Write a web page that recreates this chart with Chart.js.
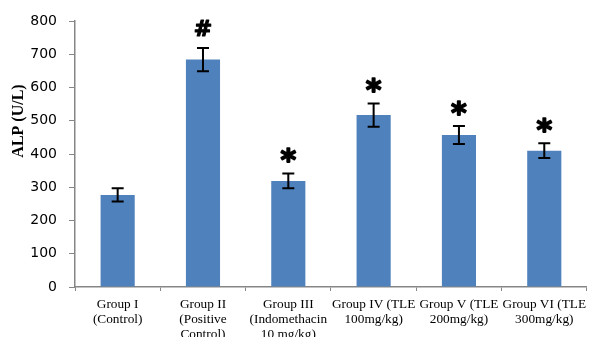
<!DOCTYPE html>
<html>
<head>
<meta charset="utf-8">
<script src="https://cdn.jsdelivr.net/npm/chart.js@4.4.1/dist/chart.umd.min.js"></script>
<style>
  html, body { margin: 0; padding: 0; background: #ffffff; overflow: hidden; }
  canvas { display: block; }
</style>
</head>
<body>
<canvas id="alp" width="592" height="337"></canvas>
<script>
// Serum ALP per treatment group (mean and SE)
const groups = [
  ['Group I', '(Control)'],
  ['Group II', '(Positive', 'Control)'],
  ['Group III', '(Indomethacin', '10 mg/kg)'],
  ['Group IV (TLE', '100mg/kg)'],
  ['Group V (TLE', '200mg/kg)'],
  ['Group VI (TLE', '300mg/kg)']
];
const alpMeans = [277, 684, 319, 517, 457, 410];
const alpErrors = [20, 35, 22, 35, 27, 22];
const significance = ['', '#', '*', '*', '*', '*'];
const yTicks = [0, 100, 200, 300, 400, 500, 600, 700, 800];

const axisGrey = '#868686';

// Error bars and significance marks above each bar
const errorBarPlugin = {
  id: 'errorBars',
  afterDatasetsDraw(chart) {
    const ctx = chart.ctx;
    const y = chart.scales.y;
    const meta = chart.getDatasetMeta(0);
    ctx.save();
    meta.data.forEach((bar, i) => {
      const top = y.getPixelForValue(alpMeans[i] + alpErrors[i]);
      const bottom = y.getPixelForValue(alpMeans[i] - alpErrors[i]);
      const cx = bar.x;
      const cap = 6;
      ctx.strokeStyle = '#000';
      ctx.lineWidth = 2;
      ctx.beginPath();
      ctx.moveTo(cx, top); ctx.lineTo(cx, bottom);
      ctx.moveTo(cx - cap, top); ctx.lineTo(cx + cap, top);
      ctx.moveTo(cx - cap, bottom); ctx.lineTo(cx + cap, bottom);
      ctx.stroke();

      const mark = significance[i];
      if (mark) {
        ctx.fillStyle = '#000';
        ctx.textAlign = 'center';
        ctx.textBaseline = 'alphabetic';
        ctx.font = mark === '#' ? 'bold 22px "DejaVu Sans"' : 'bold 30px "DejaVu Sans"';
        const m = ctx.measureText(mark);
        const gap = mark === '#' ? 20 : 18;
        const centre = top - gap;
        const base = centre + (m.actualBoundingBoxAscent - m.actualBoundingBoxDescent) / 2;
        ctx.fillText(mark, cx, base);
        // heavier outline for the symbol weight
        ctx.lineWidth = mark === '#' ? 1.2 : 1.6;
        ctx.lineJoin = 'round';
        ctx.strokeText(mark, cx, base);
      }
    });
    ctx.restore();
  }
};

// Rotated y-axis title
const yTitlePlugin = {
  id: 'yTitle',
  afterDraw(chart) {
    const ctx = chart.ctx;
    ctx.save();
    ctx.translate(19, 121);
    ctx.rotate(-Math.PI / 2);
    ctx.font = 'bold 16px "Liberation Serif"';
    ctx.fillStyle = '#000';
    ctx.textAlign = 'center';
    ctx.textBaseline = 'middle';
    ctx.fillText('ALP (U/L)', 0, 0);
    ctx.restore();
  }
};

new Chart(document.getElementById('alp'), {
  type: 'bar',
  data: {
    labels: groups,
    datasets: [{
      data: alpMeans,
      backgroundColor: '#4F81BD',
      borderWidth: 0,
      categoryPercentage: 1,
      barPercentage: 0.4
    }]
  },
  options: {
    responsive: false,
    animation: false,
    layout: { padding: { top: 21, left: 0, right: 0, bottom: 0 } },
    plugins: {
      legend: { display: false },
      tooltip: { enabled: false }
    },
    scales: {
      x: {
        afterFit(scale) { scale.height = 50; },
        grid: {
          drawOnChartArea: false,
          drawTicks: true,
          tickLength: 4,
          color: axisGrey,
          offset: true
        },
        border: { color: axisGrey, width: 1.5 },
        ticks: {
          autoSkip: false,
          maxRotation: 0,
          minRotation: 0,
          padding: 6,
          color: '#000',
          font: { family: '"Liberation Serif"', size: 13.3, lineHeight: 1.12 }
        }
      },
      y: {
        min: 0,
        max: 800,
        afterFit(scale) { scale.width = 75; },
        afterBuildTicks(scale) { scale.ticks = yTicks.map(v => ({ value: v })); },
        grid: {
          drawOnChartArea: false,
          drawTicks: true,
          tickLength: 6,
          color: axisGrey
        },
        border: { color: axisGrey, width: 1.5 },
        ticks: {
          padding: 12,
          color: '#000',
          font: { family: '"DejaVu Sans"', size: 14 }
        }
      }
    }
  },
  plugins: [errorBarPlugin, yTitlePlugin]
});
</script>
</body>
</html>
